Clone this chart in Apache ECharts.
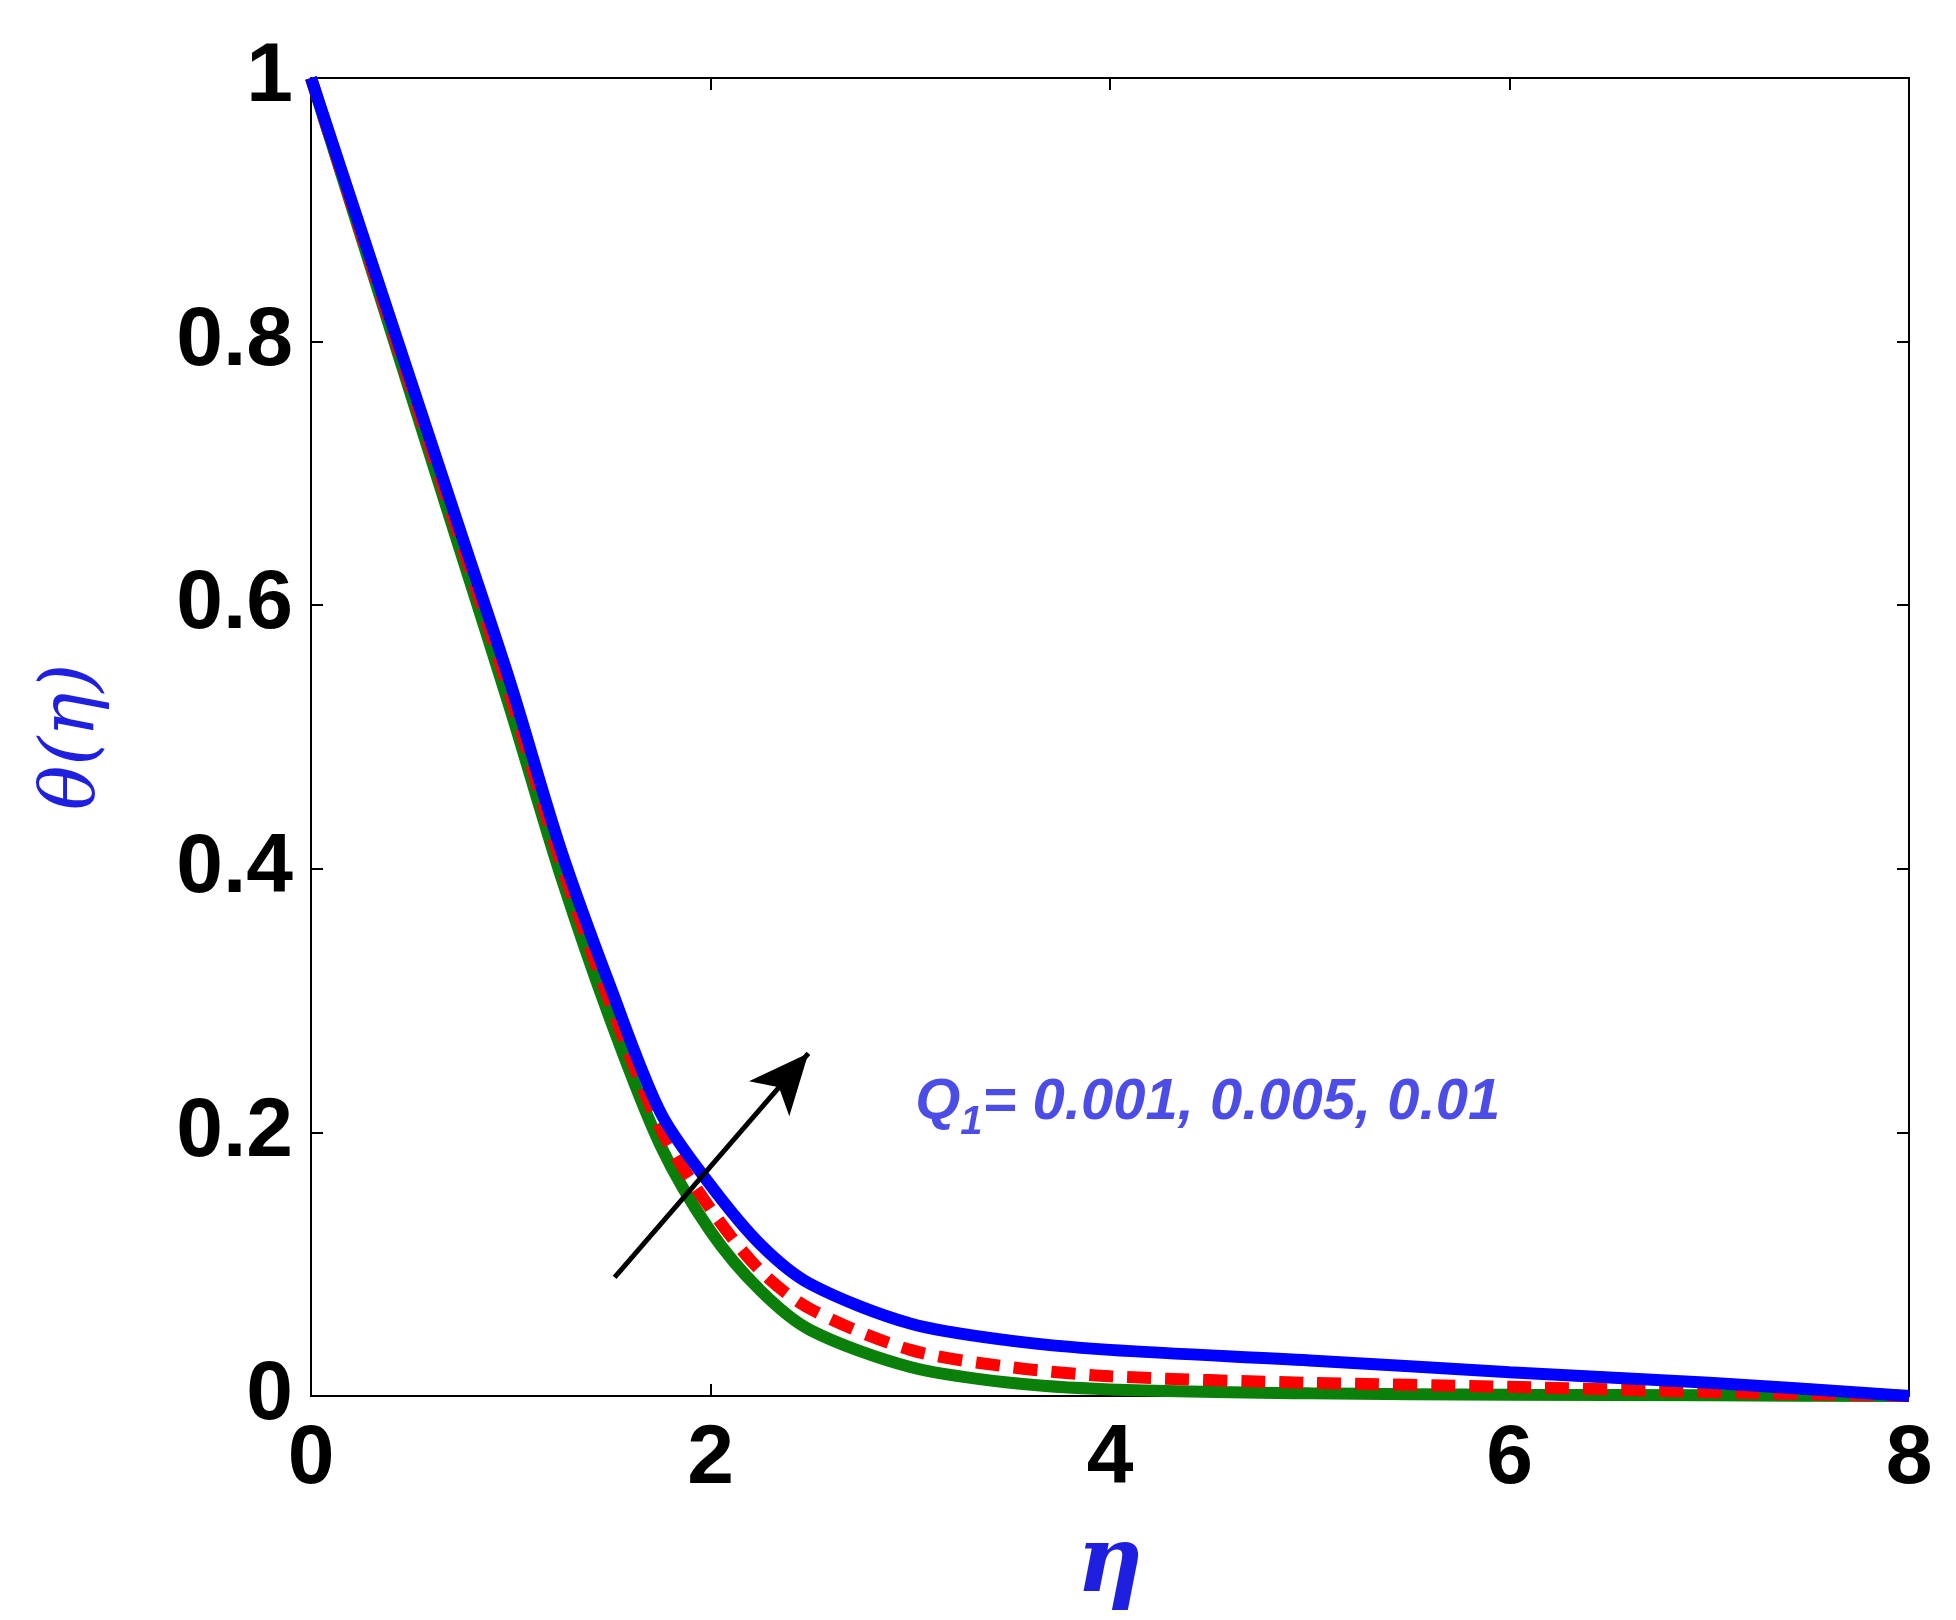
<!DOCTYPE html>
<html>
<head>
<meta charset="utf-8">
<script src="https://cdn.jsdelivr.net/npm/echarts@6/dist/echarts.min.js"></script>
<style>html,body{margin:0;background:#fff}#chart{width:1956px;height:1620px}</style>
</head>
<body>
<div id="chart"></div>
<script>
// eta grid and theta values for Q1 = 0.001, 0.005, 0.01
var eta = [0, 0.25, 0.5, 0.75, 1, 1.25, 1.5, 1.75, 2, 2.25, 2.5, 3, 3.5, 4, 5, 6, 7, 8];
var thetaQ001 = [1, 0.88, 0.76, 0.64, 0.52, 0.395, 0.285, 0.19, 0.125, 0.08, 0.05, 0.022, 0.01, 0.005, 0.002, 0.001, 0.0005, 0];
var thetaQ005 = [1, 0.882, 0.765, 0.648, 0.53, 0.405, 0.297, 0.203, 0.142, 0.095, 0.066, 0.035, 0.022, 0.015, 0.01, 0.007, 0.003, 0];
var thetaQ01 = [1, 0.885, 0.77, 0.655, 0.54, 0.415, 0.31, 0.215, 0.16, 0.115, 0.085, 0.055, 0.042, 0.035, 0.027, 0.018, 0.01, 0];
var arrowFrom = [1.52, 0.09], arrowTo = [2.49, 0.26];
var labelPos = [3.05, 0.222];

function pairs(ys) { return eta.map(function (x, i) { return [x, ys[i]]; }); }

var chart = echarts.init(document.getElementById('chart'));
var tickFont = { fontFamily: 'Liberation Sans, Arial', fontWeight: 'bold', fontSize: 84, color: '#000' };
var frameLine = { show: true, onZero: false, lineStyle: { color: '#000', width: 2 } };
var frameTick = { show: true, inside: true, length: 12, lineStyle: { color: '#000', width: 2 } };
chart.setOption({
    animation: false,
    grid: { left: 311, right: 47, top: 78, bottom: 224 },
    xAxis: [{
        type: 'value', min: 0, max: 8, interval: 2,
        name: 'η', nameLocation: 'middle', nameGap: 125,
        nameTextStyle: { fontFamily: 'DejaVu Serif', fontStyle: 'italic', fontWeight: 'bold', fontSize: 92, color: '#1f1fe0' },
        axisLine: frameLine, axisTick: frameTick,
        axisLabel: Object.assign({ margin: 22 }, tickFont),
        splitLine: { show: false }
    }, {
        type: 'value', min: 0, max: 8, interval: 2, position: 'top',
        axisLine: frameLine, axisTick: frameTick,
        axisLabel: { show: false }, splitLine: { show: false }
    }],
    yAxis: [{
        type: 'value', min: 0, max: 1, interval: 0.2,
        name: 'θ(η)', nameLocation: 'middle', nameGap: 200,
        nameTextStyle: { fontFamily: 'DejaVu Serif', fontStyle: 'italic', fontSize: 74, color: '#1f1fe0' },
        axisLine: frameLine, axisTick: frameTick,
        axisLabel: Object.assign({ margin: 18, formatter: function (v) { return v === 0 || v === 1 ? String(v) : v.toFixed(1); } }, tickFont),
        splitLine: { show: false }
    }, {
        type: 'value', min: 0, max: 1, interval: 0.2, position: 'right',
        axisLine: frameLine, axisTick: frameTick,
        axisLabel: { show: false }, splitLine: { show: false }
    }],
    series: [
        { type: 'line', data: pairs(thetaQ001), smooth: 0.3, symbol: 'none', lineStyle: { color: '#0a800a', width: 12 } },
        { type: 'line', data: pairs(thetaQ005), smooth: 0.3, symbol: 'none', lineStyle: { color: '#ff0000', width: 12, type: [24, 14] } },
        { type: 'line', data: pairs(thetaQ01), smooth: 0.3, symbol: 'none', lineStyle: { color: '#0000ff', width: 12 } },
        {
            type: 'line', data: [], silent: true,
            markLine: {
                silent: true, symbol: ['none', 'arrow'], symbolSize: [40, 60],
                lineStyle: { color: '#000', width: 5, type: 'solid' }, label: { show: false },
                data: [[{ coord: arrowFrom }, { coord: arrowTo }]]
            }
        },
        {
            type: 'scatter', data: [labelPos], symbolSize: 0, silent: true,
            label: {
                show: true, position: 'right', offset: [-10, 0],
                formatter: '{q|Q}{s|1}{q|= 0.001, 0.005, 0.01}',
                rich: {
                    q: { fontFamily: 'Liberation Sans', fontStyle: 'italic', fontWeight: 'bold', fontSize: 58, color: '#1f1fe0' },
                    s: { fontFamily: 'Liberation Sans', fontStyle: 'italic', fontWeight: 'bold', fontSize: 40, color: '#1f1fe0', padding: [40, 0, 0, 0] }
                }
            }
        }
    ]
});
</script>
</body>
</html>
